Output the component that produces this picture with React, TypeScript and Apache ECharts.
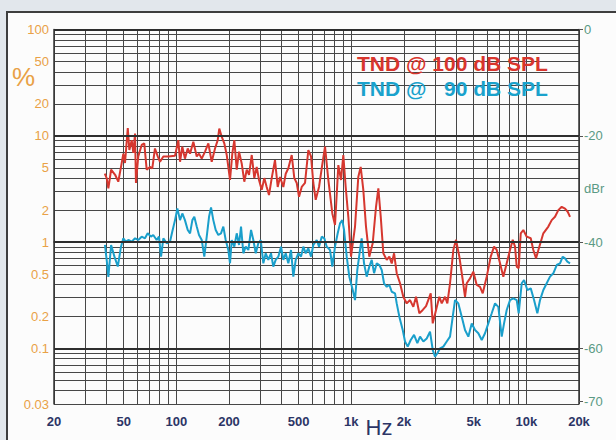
import React, { useEffect, useRef } from "react";
import * as echarts from "echarts";

// Tick / grid values
const FREQ_LABELS = [20, 50, 100, 200, 500, 1000, 2000, 5000, 10000, 20000];
const FREQ_GRID = [
  20, 30, 40, 50, 60, 70, 80, 90, 100, 200, 300, 400, 500, 600, 700, 800, 900,
  1000, 2000, 3000, 4000, 5000, 6000, 7000, 8000, 9000, 10000, 20000,
];
const PCT_LABELS = [100, 50, 20, 10, 5, 2, 1, 0.5, 0.2, 0.1, 0.03];
const PCT_GRID = [
  0.03, 0.04, 0.05, 0.06, 0.07, 0.08, 0.09, 0.1, 0.2, 0.3, 0.4, 0.5, 0.6, 0.7,
  0.8, 0.9, 1, 2, 3, 4, 5, 6, 7, 8, 9, 10, 20, 30, 40, 50, 60, 70, 80, 90, 100,
];
const PCT_MAJOR = [100, 10, 1, 0.1];
const DBR_TICKS = [0, -20, -40, -60, -70];
const DBR_LABELS = [0, -20, -30, -40, -60, -70];
const PCT_MIN = 0.03;
const PCT_MAX = 100;
const HZ_MIN = 20;
const HZ_MAX = 20000;

// TND @ 100 dB SPL : [Hz, %]
const RED_100DB = [
  [39, 4.4], [40, 4.0], [40.9, 3.2], [42.4, 4.8], [44.7, 4.3], [46.6, 3.7], [48.3, 5.1],
  [49.8, 6.8], [50.9, 5.55], [52.8, 11.8], [53.9, 7.35], [55.6, 9.1], [56.8, 6.9],
  [58.1, 10.5], [58.8, 3.6], [60.6, 6.4], [63.4, 8.2], [65.6, 8.5], [67.7, 4.8],
  [70.7, 5.1], [72.9, 4.95], [75.5, 7.6], [78.3, 6.4], [80.7, 5.7], [84.3, 6.4],
  [90, 6.4], [98.3, 6.5], [102.7, 9.1], [105, 5.7], [108.2, 7.9], [112, 6.1],
  [116.2, 7.6], [119.8, 6.8], [125.1, 8.8], [130.8, 6.4], [134.8, 6.8], [139.7, 6.1],
  [145.9, 7.1], [152.4, 8.5], [159.3, 5.7], [166.4, 7.6], [172.4, 9.1], [176, 11.7],
  [181.7, 9.8], [188, 8.5], [194.1, 6.6], [202.7, 3.84], [208.9, 6.8], [214.5, 9.1],
  [221.4, 4.8], [228.2, 7.1], [236.4, 5.5], [244.6, 3.7], [252.6, 4.8], [260.3, 4.3],
  [269.8, 6.6], [279.1, 4.0], [288, 5.1], [296.9, 3.84], [307.6, 3.1], [318.2, 4.0],
  [328.4, 3.3], [338.5, 2.77], [350.8, 4.0], [366.3, 5.9], [379.7, 3.3], [391.4, 4.1],
  [408.8, 3.3], [421.9, 4.4], [436.6, 4.95], [456.5, 6.6], [472.3, 4.0], [487.6, 3.6],
  [502.5, 2.67], [520.7, 3.3], [543.8, 3.6], [568, 7.35], [588.5, 6.4], [606.6, 3.6],
  [625.8, 2.5], [653.8, 3.3], [677.5, 4.95], [707.6, 7.9], [739, 3.84], [778.9, 1.86],
  [807, 1.45], [843, 5.3], [873.4, 3.84], [900, 6.6], [928.6, 3.3], [961.4, 1.73],
  [996, 0.73], [1050, 1.4], [1096, 4.1], [1131, 5.1], [1171, 3.1], [1213, 1.4],
  [1267, 0.73], [1325, 0.975], [1384, 2.15], [1427, 3.2], [1473, 1.73], [1524, 0.785],
  [1594, 0.68], [1649, 0.73], [1702, 0.63], [1755, 0.785], [1817, 0.51], [1898, 0.41],
  [1982, 0.306], [2073, 0.265], [2165, 0.285], [2261, 0.246], [2343, 0.306],
  [2447, 0.214], [2560, 0.23], [2673, 0.25], [2843, 0.33], [2919, 0.172], [3049, 0.23],
  [3183, 0.306], [3286, 0.265], [3431, 0.306], [3538, 0.265], [3665, 0.41],
  [3828, 0.843], [3966, 1.05], [4142, 0.73], [4332, 0.44], [4464, 0.306], [4565, 0.41],
  [4768, 0.456], [4980, 0.527], [5208, 0.395], [5438, 0.38], [5635, 0.33],
  [5939, 0.473], [6261, 0.73], [6540, 0.906], [6774, 0.843], [7075, 0.632],
  [7389, 0.473], [7727, 0.632], [8070, 0.843], [8363, 1.05], [8619, 0.906],
  [8814, 0.588], [9046, 0.567], [9292, 1.21], [9614, 1.3], [10054, 1.125],
  [10599, 1.086], [10966, 0.843], [11363, 0.704], [11867, 0.906], [12509, 1.21],
  [13360, 1.4], [13969, 1.61], [14589, 1.73], [15237, 2.0], [15932, 2.15],
  [16639, 2.07], [17240, 1.93], [17773, 1.73],
];

// TND @ 90 dB SPL : [Hz, %]
const BLUE_90DB = [
  [39.1, 0.94], [40, 0.68], [40.9, 0.47], [42.4, 0.94], [44.3, 0.73], [46.3, 0.59],
  [48.3, 0.906], [49.8, 1.086], [51.4, 1.01], [53.2, 1.047], [55.6, 1.01], [58.1, 1.086],
  [60.6, 1.047], [63.4, 1.125], [66.2, 1.086], [68.6, 1.21], [71.6, 1.125],
  [73.8, 1.167], [77.2, 1.047], [79.6, 1.125], [81.8, 0.73], [84.3, 1.086],
  [88.1, 0.975], [92, 1.01], [94.8, 1.25], [98.3, 1.61], [101.4, 2.07], [105, 1.61],
  [108.2, 1.86], [112, 1.61], [116.2, 1.3], [119.8, 1.21], [123.5, 1.61], [126.7, 1.73],
  [130.8, 1.4], [134.8, 1.167], [139.7, 1.047], [144.5, 0.73], [149.2, 1.125],
  [153.8, 1.73], [157.9, 2.12], [162.7, 1.61], [167.9, 1.3], [173.8, 1.167], [180, 1.21],
  [185.6, 1.4], [191.5, 1.047], [198.2, 0.843], [202.7, 0.632], [207.3, 1.047],
  [214.5, 0.906], [221.4, 1.21], [228.2, 0.94], [234.3, 1.4], [241.5, 0.785],
  [249.2, 0.906], [258, 0.843], [267.3, 1.3], [275.5, 1.047], [284.4, 0.785],
  [294.2, 0.975], [303.6, 1.047], [314.2, 0.632], [324.2, 0.785], [335.5, 0.68],
  [347.6, 0.785], [358.2, 0.588], [369.7, 0.68], [382.8, 0.73], [396.6, 0.906],
  [408.8, 0.68], [421.9, 0.785], [436.6, 0.632], [452.3, 0.843], [466.2, 0.473],
  [481.2, 0.68], [498, 0.785], [516, 0.73], [531.8, 0.906], [548.9, 0.785], [568, 0.874],
  [588.5, 0.73], [606.6, 0.94], [634.3, 1.047], [653.8, 0.906], [677.5, 1.125],
  [701, 1.086], [723.6, 0.906], [755.7, 0.843], [778.9, 0.588], [807, 0.906],
  [836, 1.21], [861.9, 1.5], [888.4, 1.61], [908.8, 1.3], [941.2, 0.73], [974, 0.473],
  [1019, 0.354], [1050, 0.285], [1082, 0.547], [1121, 0.843], [1146, 1.086],
  [1182, 0.632], [1224, 0.473], [1267, 0.588], [1308, 0.68], [1349, 0.51],
  [1397, 0.632], [1446, 0.609], [1492, 0.547], [1538, 0.41], [1594, 0.38],
  [1649, 0.395], [1702, 0.341], [1777, 0.33], [1817, 0.265], [1881, 0.199],
  [1967, 0.149], [2027, 0.116], [2100, 0.104], [2185, 0.12], [2283, 0.134],
  [2384, 0.112], [2470, 0.129], [2580, 0.116], [2697, 0.124], [2817, 0.144],
  [2919, 0.0966], [3009, 0.0836], [3101, 0.09], [3213, 0.1], [3356, 0.104],
  [3509, 0.116], [3665, 0.129], [3798, 0.199], [3914, 0.285], [4088, 0.265],
  [4275, 0.199], [4464, 0.149], [4663, 0.129], [4876, 0.172], [5092, 0.149],
  [5318, 0.139], [5561, 0.12], [5808, 0.139], [6066, 0.172], [6343, 0.214],
  [6625, 0.265], [6919, 0.246], [7235, 0.129], [7460, 0.172], [7727, 0.23],
  [8070, 0.285], [8428, 0.296], [8814, 0.285], [9046, 0.214], [9413, 0.41],
  [9706, 0.44], [10136, 0.354], [10599, 0.367], [11071, 0.285], [11561, 0.214],
  [11977, 0.285], [12509, 0.354], [13079, 0.41], [13660, 0.473], [14267, 0.509],
  [14919, 0.609], [15580, 0.632], [16146, 0.729], [16639, 0.704], [17156, 0.655],
  [17773, 0.632],
];

const LEGEND_RED = "TND @ 100 dB SPL";
const LEGEND_BLUE = "TND @   90 dB SPL";

const FONT = "'Liberation Sans', Arial, sans-serif";
const lg = (v: number) => Math.log10(v);
const toXY = (arr: number[][]) => arr.map(([f, p]) => [lg(f), lg(p)]);

function fmtHz(v: number): string {
  const f = Math.round(Math.pow(10, v));
  return f >= 1000 ? `${Math.round(f / 1000)}k` : String(f);
}
function fmtPct(v: number): string {
  return String(parseFloat(Math.pow(10, v).toPrecision(2)));
}

export default function App() {
  const ref = useRef<HTMLDivElement>(null);
  useEffect(() => {
    if (!ref.current) return;
    const chart = echarts.init(ref.current, undefined, { renderer: "svg" });
    const gridColor = "#474747";
    chart.setOption({
      animation: false,
      backgroundColor: "#e2e7ec",
      grid: { left: 54, right: 37, top: 29.5, bottom: 36, containLabel: false },
      graphic: [
        {
          type: "rect",
          z: -100,
          shape: { x: 7, y: 12, width: 660, height: 470 },
          style: { fill: "#fcfcfc", stroke: "#3e3e3e", lineWidth: 2 },
        },
        {
          type: "text",
          z: 100,
          x: 12,
          y: 77,
          style: { text: "%", fill: "#e9a146", font: `26px ${FONT}`, textVerticalAlign: "middle" },
        },
        {
          type: "text",
          z: 100,
          x: 379,
          y: 427,
          style: {
            text: "Hz",
            fill: "#2c3566",
            font: `22px ${FONT}`,
            textAlign: "center",
            textVerticalAlign: "middle",
          },
        },
        {
          type: "text",
          z: 100,
          x: 357,
          y: 63,
          style: {
            text: LEGEND_RED,
            fill: "#d8352d",
            font: `bold 21px ${FONT}`,
            textVerticalAlign: "middle",
          },
        },
        {
          type: "text",
          z: 100,
          x: 357,
          y: 88,
          style: {
            text: LEGEND_BLUE,
            fill: "#1aa2cc",
            font: `bold 21px ${FONT}`,
            textVerticalAlign: "middle",
          },
        },
      ],
      xAxis: {
        type: "value",
        min: lg(HZ_MIN),
        max: lg(HZ_MAX),
        axisLine: { show: true, lineStyle: { color: "#333", width: 1.5 } },
        axisTick: { show: false, customValues: FREQ_GRID.map(lg) },
        axisLabel: {
          customValues: FREQ_LABELS.map(lg),
          formatter: (v: number) => fmtHz(v),
          color: "#2c3566",
          fontSize: 13,
          fontWeight: "bold",
          fontFamily: FONT,
          margin: 11,
        },
        splitLine: { show: true, lineStyle: { color: gridColor, width: 1 } },
      },
      yAxis: [
        {
          type: "value",
          position: "left",
          min: lg(PCT_MIN),
          max: lg(PCT_MAX),
          axisLine: { show: true, lineStyle: { color: "#333", width: 1.5 } },
          axisTick: { show: false, customValues: PCT_GRID.map(lg) },
          axisLabel: {
            customValues: PCT_LABELS.map(lg),
            formatter: (v: number) => fmtPct(v),
            color: "#e9a146",
            fontSize: 13,
            fontFamily: FONT,
            margin: 5,
          },
          splitLine: { show: true, lineStyle: { color: gridColor, width: 1 } },
        },
        {
          type: "value",
          position: "right",
          min: 20 * lg(PCT_MIN / PCT_MAX),
          max: 0,
          axisLine: { show: true, lineStyle: { color: "#333", width: 1.5 } },
          axisTick: {
            show: true,
            customValues: DBR_TICKS,
            length: 4,
            lineStyle: { color: "#555" },
          },
          axisLabel: {
            customValues: DBR_LABELS,
            formatter: (v: number) => (Math.round(v) === -30 ? "dBr" : String(Math.round(v))),
            color: "#5a9a84",
            fontSize: 13,
            fontFamily: FONT,
            margin: 5,
          },
          splitLine: { show: false },
        },
      ],
      series: [
        {
          type: "line",
          name: "major",
          data: [],
          z: 1,
          silent: true,
          markLine: {
            silent: true,
            symbol: ["none", "none"],
            label: { show: false },
            lineStyle: { color: "#2e2e2e", width: 2.2, type: "solid" },
            data: PCT_MAJOR.map((p) => ({ yAxis: lg(p) })),
          },
        },
        {
          type: "line",
          name: LEGEND_RED,
          data: toXY(RED_100DB),
          showSymbol: false,
          z: 3,
          lineStyle: { color: "#d6372f", width: 2 },
          itemStyle: { color: "#d6372f" },
        },
        {
          type: "line",
          name: LEGEND_BLUE,
          data: toXY(BLUE_90DB),
          showSymbol: false,
          z: 4,
          lineStyle: { color: "#1a9fcb", width: 2 },
          itemStyle: { color: "#1a9fcb" },
        },
      ],
    });
    return () => chart.dispose();
  }, []);
  return (
    <div
      ref={ref}
      style={{ position: "fixed", left: 0, top: 0, width: 616, height: 440 }}
    />
  );
}
